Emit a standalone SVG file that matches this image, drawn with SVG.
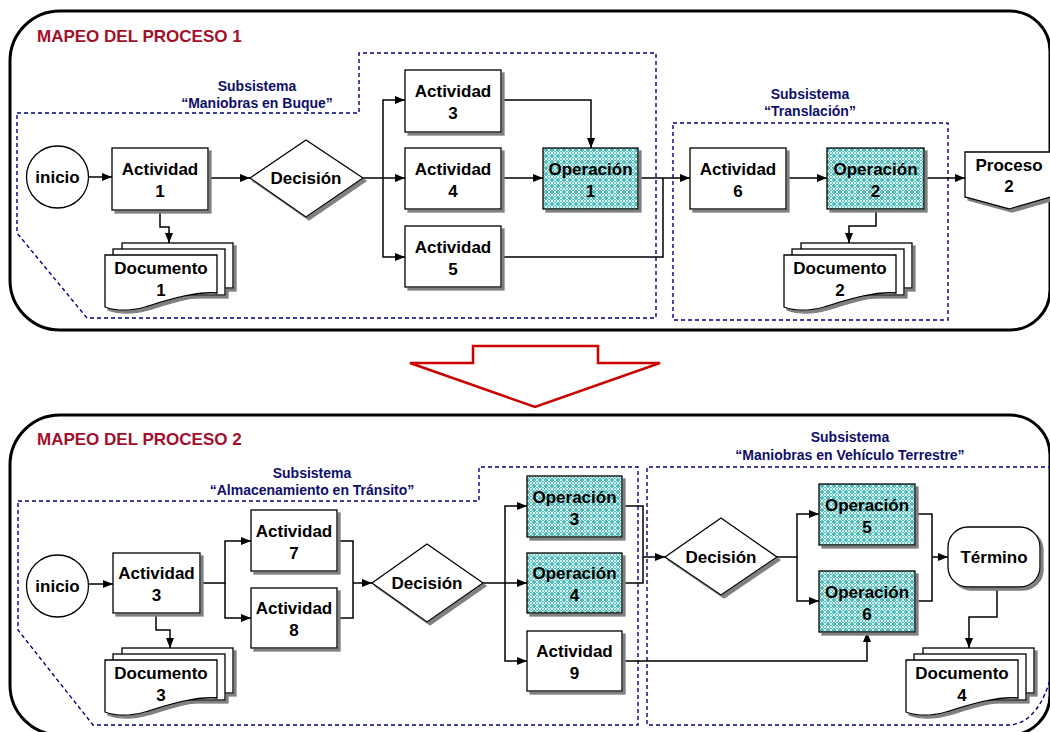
<svg xmlns="http://www.w3.org/2000/svg" width="1050" height="732" viewBox="0 0 1050 732">
<defs>
<style>
.box{fill:#fff;stroke:#000;stroke-width:1.3}
.op{fill:url(#hatch);stroke:#000;stroke-width:1.3}
.sh{filter:url(#sh)}
.lbl{font-family:"Liberation Sans",Arial,sans-serif;font-weight:bold;font-size:17px;text-anchor:middle;fill:#000}
.sub{font-family:"Liberation Sans",Arial,sans-serif;font-weight:bold;font-size:14px;text-anchor:middle;fill:#0e0e6a}
.title{font-family:"Liberation Sans",Arial,sans-serif;font-weight:bold;font-size:17px;fill:#a3102b}
.cn{fill:none;stroke:#000;stroke-width:1.5}
.ar{marker-end:url(#ah)}
.dash{fill:none;stroke:#000080;stroke-width:1.4;stroke-dasharray:4 3}
.panel{fill:none;stroke:#000;stroke-width:3}
</style>
<pattern id="hatch" width="6" height="6" patternUnits="userSpaceOnUse">
<rect width="6" height="6" fill="#55bdb9"/>
<path d="M0,3 L3,0 L6,3 L3,6 Z" fill="none" stroke="#e2f5f4" stroke-width="1"/>
<circle cx="3" cy="3" r="0.9" fill="#fff"/>
</pattern>
<filter id="sh" x="-10%" y="-10%" width="130%" height="130%">
<feDropShadow dx="3" dy="3" stdDeviation="0.5" flood-color="#808080" flood-opacity="1"/>
</filter>
<marker id="ah" markerWidth="10" markerHeight="8" refX="10" refY="4" orient="auto" markerUnits="userSpaceOnUse">
<path d="M0,0 L10,4 L0,8 Z" fill="#000"/>
</marker>
</defs>

<rect width="1050" height="732" fill="#fff"/>

<!-- panels -->
<g id="panel1">
<path class="panel" d="M60,11 H1010 A40,40 0 0 1 1050,51 V290 A40,40 0 0 1 1010,330 H60 A50,50 0 0 1 10,280 V61 A50,50 0 0 1 60,11 Z"/>
<text class="title" x="37" y="42">MAPEO DEL PROCESO 1</text>
</g>
<g id="panel2">
<path class="panel" d="M60,415 H1010 A40,40 0 0 1 1050,455 V695 A40,40 0 0 1 1010,735 H60 A50,50 0 0 1 10,685 V465 A50,50 0 0 1 60,415 Z"/>
<text class="title" x="37" y="445">MAPEO DEL PROCESO 2</text>
</g>

<!-- subsystems -->
<g id="sub-buque">
<path class="dash" d="M17,113 H359 V53 H656 V318 H87 L17,233 Z"/>
<text class="sub" x="257" y="91">Subsistema</text>
<text class="sub" x="257" y="108">“Maniobras en Buque”</text>
</g>
<g id="sub-translacion">
<rect class="dash" x="673" y="123" width="275" height="197"/>
<text class="sub" x="810" y="99">Subsistema</text>
<text class="sub" x="810" y="116">“Translación”</text>
</g>
<g id="sub-almacenamiento">
<path class="dash" d="M18,501 H479 V467 H638 V725 H93 L18,630 Z"/>
<text class="sub" x="312" y="478">Subsistema</text>
<text class="sub" x="312" y="495">“Almacenamiento en Tránsito”</text>
</g>
<g id="sub-vehiculo">
<path class="dash" d="M1052,467 H647 V725 H1010 Q1040,722 1052,672"/>
<text class="sub" x="850" y="442">Subsistema</text>
<text class="sub" x="850" y="460">“Maniobras en Vehículo Terrestre”</text>
</g>

<!-- big arrow -->
<g id="big-arrow">
<polygon points="410,363 473,363 473,346 598,346 598,363 660,363 535,407" fill="#fff" stroke="#cc0000" stroke-width="2.5" stroke-linejoin="miter"/>
</g>

<!-- connectors -->
<g id="connectors">
<path class="cn ar" d="M88,177 H112"/>
<path class="cn ar" d="M208,178 H250"/>
<path class="cn ar" d="M160,210 V227 H169 V243"/>
<path class="cn ar" d="M363,178 H405"/>
<path class="cn ar" d="M383,178 V100 H405"/>
<path class="cn ar" d="M383,178 V257 H405"/>
<path class="cn ar" d="M501,100 H591 V148"/>
<path class="cn ar" d="M501,178 H543"/>
<path class="cn ar" d="M638,178 H690"/>
<path class="cn" d="M501,257 H663 V178"/>
<path class="cn ar" d="M786,178 H827"/>
<path class="cn ar" d="M924,178 H965"/>
<path class="cn ar" d="M876,209 V226 H849 V243"/>

<path class="cn ar" d="M88,584 H113"/>
<path class="cn ar" d="M200,583 H225 V541 H251"/>
<path class="cn ar" d="M225,583 V618 H251"/>
<path class="cn ar" d="M156,613 V630 H170 V648"/>
<path class="cn" d="M337,541 H353 V618 H337"/>
<path class="cn ar" d="M353,583 H372"/>
<path class="cn ar" d="M483,583 H527"/>
<path class="cn ar" d="M505,583 V506 H527"/>
<path class="cn ar" d="M505,583 V661 H527"/>
<path class="cn" d="M622,506 H643 V583 H622"/>
<path class="cn ar" d="M643,557 H665"/>
<path class="cn ar" d="M622,661 H867 V632"/>
<path class="cn ar" d="M777,557 H797 V514 H819"/>
<path class="cn ar" d="M797,557 V601 H819"/>
<path class="cn" d="M915,514 H932 V601 H915"/>
<path class="cn ar" d="M932,557 H948"/>
<path class="cn ar" d="M997,587 V617 H969 V648"/>
</g>

<!-- top nodes -->
<g id="inicio1">
<circle class="box" cx="57.5" cy="177" r="31"/>
<text class="lbl" x="57.5" y="183">inicio</text>
</g>
<g id="actividad1">
<rect class="box sh" x="112" y="148" width="96" height="62"/>
<text class="lbl" x="160" y="175">Actividad</text>
<text class="lbl" x="160" y="197">1</text>
</g>
<g id="decision1">
<polygon class="box sh" points="250,178 306,140 363,178 306,217"/>
<text class="lbl" x="306" y="184">Decisión</text>
</g>
<g id="actividad3">
<rect class="box sh" x="405" y="70" width="96" height="62"/>
<text class="lbl" x="453" y="97">Actividad</text>
<text class="lbl" x="453" y="119">3</text>
</g>
<g id="actividad4">
<rect class="box sh" x="405" y="148" width="96" height="61"/>
<text class="lbl" x="453" y="175">Actividad</text>
<text class="lbl" x="453" y="197">4</text>
</g>
<g id="actividad5">
<rect class="box sh" x="405" y="226" width="96" height="61"/>
<text class="lbl" x="453" y="253">Actividad</text>
<text class="lbl" x="453" y="275">5</text>
</g>
<g id="operacion1">
<rect class="op sh" x="543" y="148" width="95" height="61"/>
<text class="lbl" x="590.5" y="175">Operación</text>
<text class="lbl" x="590.5" y="197">1</text>
</g>
<g id="actividad6">
<rect class="box sh" x="690" y="148" width="96" height="61"/>
<text class="lbl" x="738" y="175">Actividad</text>
<text class="lbl" x="738" y="197">6</text>
</g>
<g id="operacion2">
<rect class="op sh" x="827" y="148" width="97" height="61"/>
<text class="lbl" x="875.5" y="175">Operación</text>
<text class="lbl" x="875.5" y="197">2</text>
</g>
<g id="proceso2">
<path class="box sh" d="M965,152 H1051 V197 L1009,209 L965,197 Z"/>
<text class="lbl" x="1009" y="171">Proceso</text>
<text class="lbl" x="1009" y="192">2</text>
</g>
<g id="documento1">
<g class="sh">
<rect class="box" x="122" y="243" width="111" height="45"/>
<rect class="box" x="113" y="249" width="112" height="46"/>
<path class="box" d="M105,255 h112 v38 C195,291 165,301 145,307 C127,312 113,310 105,307 Z"/>
</g>
<text class="lbl" x="161" y="274">Documento</text>
<text class="lbl" x="161" y="296">1</text>
</g>
<g id="documento2">
<g class="sh">
<rect class="box" x="801" y="243" width="111" height="45"/>
<rect class="box" x="792" y="249" width="112" height="46"/>
<path class="box" d="M784,255 h112 v38 C874,291 844,301 824,307 C806,312 792,310 784,307 Z"/>
</g>
<text class="lbl" x="840" y="274">Documento</text>
<text class="lbl" x="840" y="296">2</text>
</g>

<!-- bottom nodes -->
<g id="inicio2">
<circle class="box" cx="57.5" cy="586" r="31"/>
<text class="lbl" x="57.5" y="592">inicio</text>
</g>
<g id="actividad3b">
<rect class="box sh" x="113" y="553" width="87" height="60"/>
<text class="lbl" x="156.5" y="579">Actividad</text>
<text class="lbl" x="156.5" y="601">3</text>
</g>
<g id="actividad7">
<rect class="box sh" x="251" y="510" width="86" height="61"/>
<text class="lbl" x="294" y="537">Actividad</text>
<text class="lbl" x="294" y="559">7</text>
</g>
<g id="actividad8">
<rect class="box sh" x="251" y="588" width="86" height="60"/>
<text class="lbl" x="294" y="614">Actividad</text>
<text class="lbl" x="294" y="636">8</text>
</g>
<g id="decision2">
<polygon class="box sh" points="372,583 427,544 483,583 427,622"/>
<text class="lbl" x="427" y="589">Decisión</text>
</g>
<g id="operacion3">
<rect class="op sh" x="527" y="476" width="95" height="61"/>
<text class="lbl" x="574.5" y="503">Operación</text>
<text class="lbl" x="574.5" y="525">3</text>
</g>
<g id="operacion4">
<rect class="op sh" x="527" y="553" width="95" height="60"/>
<text class="lbl" x="574.5" y="579">Operación</text>
<text class="lbl" x="574.5" y="601">4</text>
</g>
<g id="actividad9">
<rect class="box sh" x="527" y="631" width="95" height="60"/>
<text class="lbl" x="574.5" y="657">Actividad</text>
<text class="lbl" x="574.5" y="679">9</text>
</g>
<g id="decision3">
<polygon class="box sh" points="665,557 721,518 777,557 721,595"/>
<text class="lbl" x="721" y="563">Decisión</text>
</g>
<g id="operacion5">
<rect class="op sh" x="819" y="484" width="96" height="61"/>
<text class="lbl" x="867" y="511">Operación</text>
<text class="lbl" x="867" y="533">5</text>
</g>
<g id="operacion6">
<rect class="op sh" x="819" y="571" width="96" height="61"/>
<text class="lbl" x="867" y="598">Operación</text>
<text class="lbl" x="867" y="620">6</text>
</g>
<g id="termino">
<rect class="box sh" x="948" y="527" width="92" height="60" rx="20" ry="20"/>
<text class="lbl" x="994" y="563">Término</text>
</g>
<g id="documento3">
<g class="sh">
<rect class="box" x="122" y="648" width="111" height="45"/>
<rect class="box" x="113" y="654" width="112" height="46"/>
<path class="box" d="M105,660 h112 v38 C195,696 165,706 145,712 C127,717 113,715 105,712 Z"/>
</g>
<text class="lbl" x="161" y="679">Documento</text>
<text class="lbl" x="161" y="701">3</text>
</g>
<g id="documento4">
<g class="sh">
<rect class="box" x="923" y="648" width="111" height="45"/>
<rect class="box" x="914" y="654" width="112" height="46"/>
<path class="box" d="M906,660 h112 v38 C996,696 966,706 946,712 C928,717 914,715 906,712 Z"/>
</g>
<text class="lbl" x="962" y="679">Documento</text>
<text class="lbl" x="962" y="701">4</text>
</g>
</svg>
